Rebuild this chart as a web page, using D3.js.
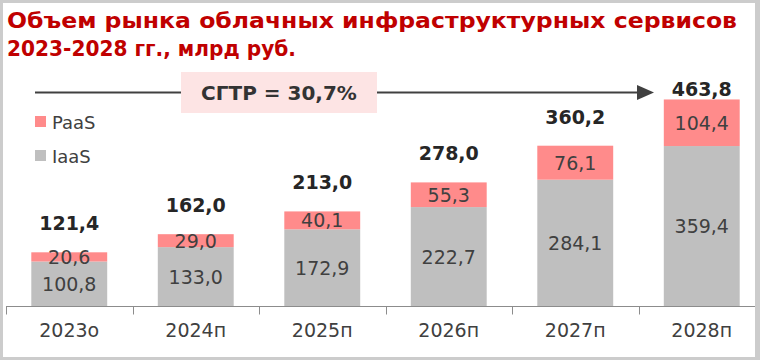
<!DOCTYPE html>
<html><head><meta charset="utf-8">
<script src="https://cdn.jsdelivr.net/npm/d3@7"></script>
<style>html,body{margin:0;padding:0;background:#fff;}svg{display:block;}</style>
</head><body>
<script>
const categories = ["2023о","2024п","2025п","2026п","2027п","2028п"];
const iaas = [100.8,133.0,172.9,222.7,284.1,359.4];
const paas = [20.6,29.0,40.1,55.3,76.1,104.4];
const totals = [121.4,162.0,213.0,278.0,360.2,463.8];
const seriesNames = ["PaaS","IaaS"];
const titleLines = ["Объем рынка облачных инфраструктурных сервисов","2023-2028 гг., млрд руб."];
const cagrLabel = "СГТР = 30,7%";
const fmt = v => v.toFixed(1).replace(".", ",");

const W = 760, H = 360;
const svg = d3.select("body").append("svg").attr("width", W).attr("height", H);
const font = "'DejaVu Sans', Verdana, sans-serif";

// frame
svg.append("rect").attr("width", W).attr("height", H).attr("fill", "#cccccc");
svg.append("rect").attr("x", 3).attr("y", 3).attr("width", 752).attr("height", 354).attr("fill", "#fff");

// title
const titleWidths = [730, 289];
svg.append("g").selectAll("text").data(titleLines).join("text")
  .attr("x", 7).attr("y", (d,i) => 28 + i*28)
  .attr("fill", "#c00000").attr("font-family", font).attr("font-weight", "bold")
  .attr("font-size", 21).attr("textLength", (d,i) => titleWidths[i]).attr("lengthAdjust", "spacingAndGlyphs")
  .text(d => d);

const x = d3.scaleBand().domain(categories).range([6, 765]).paddingInner(0.4).paddingOuter(0.2);
const y = d3.scaleLinear().domain([0, 500]).range([306.5, 83.3]);

svg.append("clipPath").attr("id","frameclip").append("rect").attr("x",3).attr("y",3).attr("width",752).attr("height",354);
const chart = svg.append("g").attr("clip-path","url(#frameclip)");

// bars
const data = categories.map((c,i) => ({c, iaas: iaas[i], paas: paas[i], total: totals[i], i}));
chart.selectAll(".iaas").data(data).join("rect")
  .attr("x", d => x(d.c)).attr("width", x.bandwidth())
  .attr("y", d => y(d.iaas)).attr("height", d => y(0) - y(d.iaas))
  .attr("fill", "#bfbfbf");
chart.selectAll(".paas").data(data).join("rect")
  .attr("x", d => x(d.c)).attr("width", x.bandwidth())
  .attr("y", d => y(d.iaas + d.paas)).attr("height", d => y(d.iaas) - y(d.iaas + d.paas))
  .attr("fill", "#ff8b8b");

// axis
const axis = d3.axisBottom(x).tickSize(0).tickFormat(d => d);
const ag = chart.append("g").attr("transform", `translate(0,${y(0)})`).call(axis);
ag.select(".domain").remove();
ag.selectAll("text").attr("font-family", font).attr("font-size", 19).attr("fill", "#404040").attr("dy", "1.45em");
chart.append("line").attr("x1", 6).attr("x2", 765).attr("y1", y(0)).attr("y2", y(0)).attr("stroke", "#8c8c8c").attr("stroke-width", 1);
const bounds = categories.map(c => x(c) - x.step()*x.paddingInner()/2 ).concat([x(categories[categories.length-1]) + x.bandwidth() + x.step()*x.paddingInner()/2]);
chart.selectAll(".tick2").data(bounds).join("line")
  .attr("x1", d => Math.round(d)+0.5).attr("x2", d => Math.round(d)+0.5)
  .attr("y1", y(0)).attr("y2", y(0)+8).attr("stroke", "#8c8c8c");

// segment labels
chart.selectAll(".li").data(data).join("text")
  .attr("x", d => x(d.c) + x.bandwidth()/2).attr("y", d => (y(0) + y(d.iaas))/2 + 7)
  .attr("text-anchor", "middle").attr("font-family", font).attr("font-size", 19).attr("fill", "#404040")
  .text(d => fmt(d.iaas));
chart.selectAll(".lp").data(data).join("text")
  .attr("x", d => x(d.c) + x.bandwidth()/2).attr("y", d => (y(d.iaas) + y(d.iaas + d.paas))/2 + 7)
  .attr("text-anchor", "middle").attr("font-family", font).attr("font-size", 19).attr("fill", "#404040")
  .text(d => fmt(d.paas));
// totals
chart.selectAll(".lt").data(data).join("text")
  .attr("x", d => x(d.c) + x.bandwidth()/2)
  .attr("y", d => y(d.total) - (d.i === data.length-1 ? 3 : 22))
  .attr("text-anchor", "middle").attr("font-family", font).attr("font-size", 19).attr("font-weight", "bold").attr("fill", "#262626")
  .text(d => fmt(d.total));

// legend
const legendColors = ["#ff8b8b", "#bfbfbf"];
const lg = svg.append("g").selectAll("g").data(seriesNames).join("g")
  .attr("transform", (d,i) => `translate(35,${116 + i*34})`);
lg.append("rect").attr("width", 11).attr("height", 11).attr("fill", (d,i) => legendColors[i]);
lg.append("text").attr("x", 17).attr("y", 13).attr("font-family", font).attr("font-size", 18).attr("fill", "#404040").text(d => d);

// CAGR arrow
svg.append("line").attr("x1", 35).attr("x2", 638).attr("y1", 92.5).attr("y2", 92.5)
  .attr("stroke", "#404040").attr("stroke-width", 2);
svg.append("path").attr("d", "M637,85 L654,92.5 L637,100 Z").attr("fill", "#404040");
svg.append("rect").attr("x", 181).attr("y", 72).attr("width", 196).attr("height", 41).attr("fill", "#fde4e4");
svg.append("text").attr("x", 279).attr("y", 100).attr("text-anchor", "middle")
  .attr("font-family", font).attr("font-size", 20).attr("font-weight", "bold").attr("fill", "#333333").text(cagrLabel);
</script>
</body></html>
